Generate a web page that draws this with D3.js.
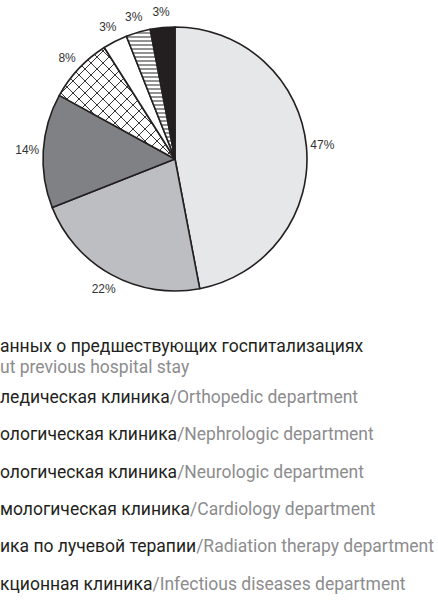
<!DOCTYPE html>
<html lang="ru">
<head>
<meta charset="utf-8">
<title>Госпитализации</title>
<script src="https://cdn.jsdelivr.net/npm/d3@7"></script>
<style>
  body { margin: 0; background: #fff; }
  svg { display: block; }
  .pct { font-family: "Liberation Sans", Arial, sans-serif; font-size: 12px; fill: #333; }
  .leg { font-family: Roboto, "Noto Sans", sans-serif; font-size: 17.5px; }
  .ru { fill: #231f20; }
  .en { fill: #8c8c8e; }
</style>
</head>
<body>
<svg width="438" height="603"></svg>
<script>
// доли по клиникам, %
var values = [47, 22, 14, 8, 3, 3, 3];
var pctText = values.map(function (v) { return v + "%"; });

// подписи легенды (левая часть обрезана, как на исходнике)
var ruLabels = [
  "анных о предшествующих госпитализациях",
  "ледическая клиника",
  "ологическая клиника",
  "ологическая клиника",
  "мологическая клиника",
  "ика по лучевой терапии",
  "кционная клиника"
];
var enLabels = [
  "ut previous hospital stay",
  "Orthopedic department",
  "Nephrologic department",
  "Neurologic department",
  "Cardiology department",
  "Radiation therapy department",
  "Infectious diseases department"
];

var fills = ["#e6e7e8", "#bdbec1", "#808184", "url(#cross)", "#ffffff", "url(#hlines)", "#231f20"];

var svg = d3.select("svg");
var defs = svg.append("defs");

var cross = defs.append("pattern").attr("id", "cross")
  .attr("patternUnits", "userSpaceOnUse").attr("width", 12).attr("height", 12);
cross.append("rect").attr("width", 12).attr("height", 12).attr("fill", "#fff");
cross.append("path").attr("d", "M0,0L12,12M12,0L0,12M-1,11L1,13M11,-1L13,1M-1,1L1,-1M11,13L13,11")
  .attr("stroke", "#231f20").attr("stroke-width", 0.9);

var hl = defs.append("pattern").attr("id", "hlines")
  .attr("patternUnits", "userSpaceOnUse").attr("width", 6).attr("height", 4);
hl.append("rect").attr("width", 6).attr("height", 4).attr("fill", "#fff");
hl.append("line").attr("x1", 0).attr("x2", 6).attr("y1", 2).attr("y2", 2)
  .attr("stroke", "#58585a").attr("stroke-width", 1.3);

var cx = 175, cy = 159, r = 132;
var g = svg.append("g").attr("transform", "translate(" + cx + "," + cy + ")");

var pie = d3.pie().sort(null).value(function (d) { return d; });
var arcs = pie(values);
var arc = d3.arc().innerRadius(0).outerRadius(r);
var labelArc = d3.arc().innerRadius(148).outerRadius(148);

g.selectAll("path.slice")
  .data(arcs)
  .enter()
  .append("path")
  .attr("class", "slice")
  .attr("d", arc)
  .attr("fill", function (d, i) { return fills[i]; })
  .attr("stroke", "#231f20")
  .attr("stroke-width", 1.6)
  .attr("stroke-linejoin", "round");

g.selectAll("text.pct")
  .data(arcs)
  .enter()
  .append("text")
  .attr("class", "pct")
  .attr("transform", function (d) { return "translate(" + labelArc.centroid(d) + ")"; })
  .attr("text-anchor", "middle")
  .attr("dy", "0.35em")
  .text(function (d, i) { return pctText[i]; });

// легенда
var rowY = [352, 373, 403, 440, 478, 515, 552, 590];
var leg = svg.append("g");

var t0 = leg.append("text").attr("class", "leg").attr("x", 0).attr("y", rowY[0]);
t0.append("tspan").attr("class", "ru").text(ruLabels[0]);
leg.append("text").attr("class", "leg en").attr("x", 0).attr("y", rowY[1]).text(enLabels[0]);

for (var i = 1; i < ruLabels.length; i++) {
  var t = leg.append("text").attr("class", "leg").attr("x", 0).attr("y", rowY[i + 1]);
  t.append("tspan").attr("class", "ru").text(ruLabels[i]);
  t.append("tspan").attr("class", "en").text("/" + enLabels[i]);
}
</script>
</body>
</html>
